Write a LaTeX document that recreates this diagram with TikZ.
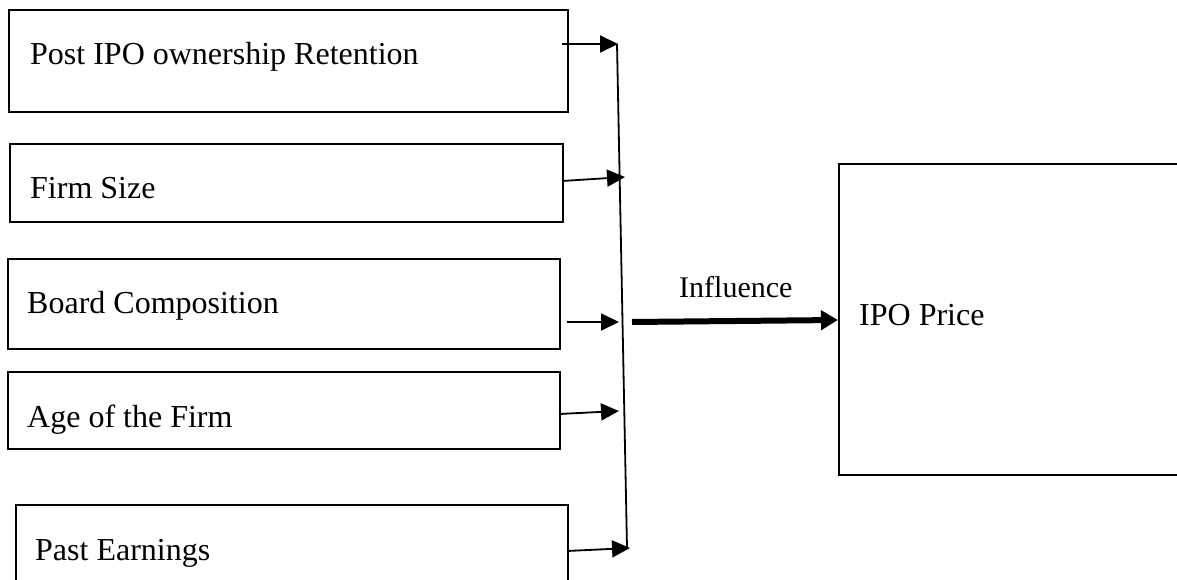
\documentclass[tikz,border=0pt]{standalone}
\usepackage{fontspec}
\setmainfont{Liberation Serif}
\usetikzlibrary{arrows.meta}
\begin{document}
\begin{tikzpicture}[x=1pt,y=-1pt,
  boxnode/.style={draw,line width=2pt,inner sep=0pt,anchor=north west},
  lbl/.style={anchor=base west,inner sep=0pt,font=\fontsize{32}{38}\selectfont},
  thinarrow/.style={line width=1.8pt,-{Triangle[length=18pt,width=17pt]}},
  thickarrow/.style={line width=6pt,-{Triangle[length=17pt,width=19pt]}}]
\useasboundingbox (0,0) rectangle (1177,580);
\clip (0,0) rectangle (1177,580);
% boxes
\node[boxnode,minimum width=559pt,minimum height=102pt] (b1) at (8,9) {};
\node[boxnode,minimum width=553pt,minimum height=78pt] (b2) at (9,143) {};
\node[boxnode,minimum width=552pt,minimum height=90pt] (b3) at (7,258) {};
\node[boxnode,minimum width=552pt,minimum height=77pt] (b4) at (7,371) {};
\node[boxnode,minimum width=552pt,minimum height=90pt] (b5) at (15,504) {};
\node[boxnode,minimum width=360pt,minimum height=311pt] (ipo) at (838,163) {};
% labels
\node[lbl] (l1) at (30,65) {Post IPO ownership Retention};
\node[lbl] (l2) at (30,198) {Firm Size};
\node[lbl] (l3) at (27,313) {Board Composition};
\node[lbl] (l4) at (27,427) {Age of the Firm};
\node[lbl] (l5) at (35,560) {Past Earnings};
\node[lbl] (l6) at (859,325) {IPO Price};
\node[lbl,font=\fontsize{30}{36}\selectfont] (inf) at (679,297) {Influence};
% coordinates
\coordinate (s1) at (562,44);  \coordinate (t1) at (618,44);
\coordinate (s2) at (562,181); \coordinate (t2) at (625,177);
\coordinate (s3) at (567,322); \coordinate (t3) at (619,322);
\coordinate (s4) at (559,414); \coordinate (t4) at (619,411);
\coordinate (s5) at (567,551); \coordinate (t5) at (630,548);
\coordinate (vtop) at (617,44); \coordinate (vbot) at (627,548);
\coordinate (hs) at (632,322);
% connectors
\draw[line width=1.8pt] (vtop) -- (vbot);
\draw[thinarrow] (s1) -- (t1);
\draw[thinarrow] (s2) -- (t2);
\draw[thinarrow] (s3) -- (t3);
\draw[thinarrow] (s4) -- (t4);
\draw[thinarrow] (s5) -- (t5);
\draw[thickarrow] (hs) -- (ipo.west |- 0,320);
\end{tikzpicture}
\end{document}
